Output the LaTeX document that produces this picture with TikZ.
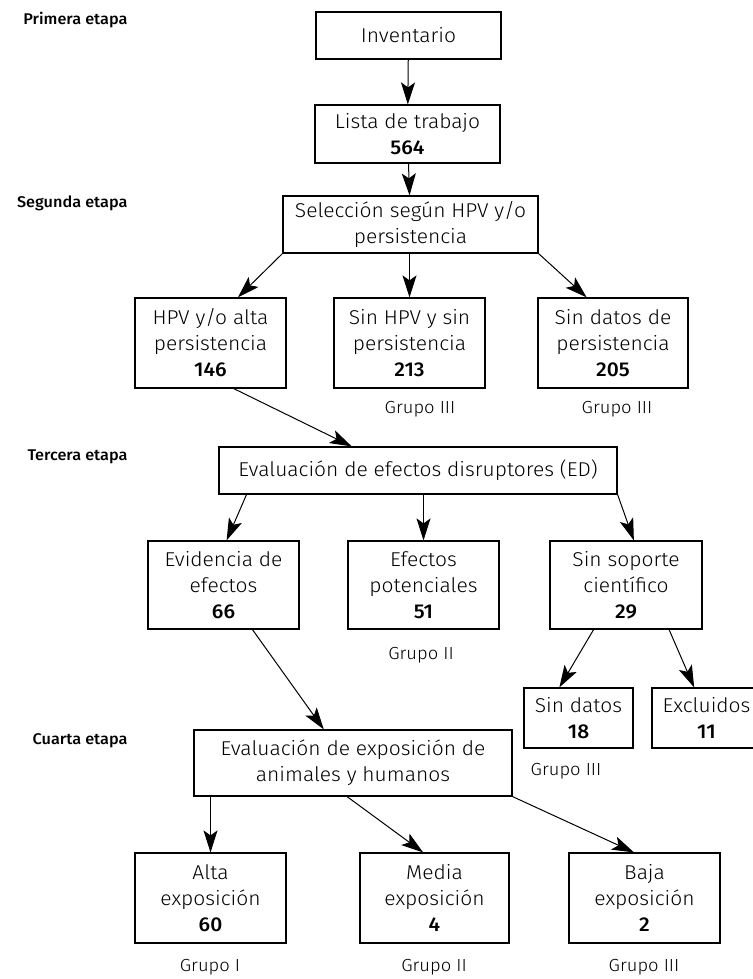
\documentclass[tikz,border=0pt]{standalone}
\usepackage{fontspec}
\setmainfont{Fira Sans}[UprightFont=* Light, BoldFont=* Medium, FakeStretch=1.05]
\usetikzlibrary{arrows.meta}

\begin{document}
\begin{tikzpicture}[x=1pt,y=-1pt,
    caja/.style={draw,line width=1.2pt,align=center,inner sep=0pt,font=\fontsize{20}{26}\selectfont},
    etapa/.style={anchor=east,font=\fontsize{15.5}{19}\bfseries},
    grupo/.style={font=\fontsize{17.5}{20}\selectfont},
    flecha/.style={-{Stealth[length=22pt,width=14pt,inset=5pt]},line width=1pt}]

    \useasboundingbox (0,0) rectangle (752,979);

    %etapas
    \node[etapa] (e1) at (131,20) {Primera etapa};
    \node[etapa] (e2) at (131,203) {Segunda etapa};
    \node[etapa] (e3) at (131,457) {Tercera etapa};
    \node[etapa] (e4) at (131,741) {Cuarta etapa};

    %primera etapa
    \node[caja,minimum width=185,minimum height=47] (inv) at (408.5,35.5) {Inventario};
    \node[caja,minimum width=185,minimum height=58] (lista) at (407.5,134) {Lista de trabajo\\\textbf{564}};

    %segunda etapa
    \node[caja,minimum width=255,minimum height=57] (sel) at (410.5,224.5) {Selección según HPV y/o\\persistencia};
    \node[caja,minimum width=151,minimum height=90] (hpv) at (210.5,343) {HPV y/o alta\\persistencia\\\textbf{146}};
    \node[caja,minimum width=151,minimum height=90] (sinhpv) at (409.5,343) {Sin HPV y sin\\persistencia\\\textbf{213}};
    \node[caja,minimum width=150,minimum height=90] (sdp) at (613,343) {Sin datos de\\persistencia\\\textbf{205}};
    \node[grupo] (g1) at (420,409) {Grupo III};
    \node[grupo] (g2) at (617,409) {Grupo III};

    %tercera etapa
    \node[caja,minimum width=398,minimum height=47] (ed) at (418,470.5) {Evaluación de efectos disruptores (ED)};
    \node[caja,minimum width=151,minimum height=88] (evid) at (223.5,585) {Evidencia de\\efectos\\\textbf{66}};
    \node[caja,minimum width=151,minimum height=88] (efe) at (423.5,585) {Efectos\\potenciales\\\textbf{51}};
    \node[caja,minimum width=152,minimum height=88] (sop) at (626,585) {Sin soporte\\científico\\\textbf{29}};
    \node[grupo] (g3) at (421,655) {Grupo II};
    \node[caja,minimum width=109,minimum height=60] (sd) at (578.5,718) {Sin datos\\\textbf{18}};
    \node[caja,minimum width=109,minimum height=60] (excl) at (706.5,718) {Excluidos\\\textbf{11}};
    \node[grupo] (g4) at (566,771) {Grupo III};

    %cuarta etapa
    \node[caja,minimum width=318,minimum height=66] (exp) at (353,763) {Evaluación de exposición de\\animales y humanos};
    \node[caja,minimum width=151,minimum height=90] (alta) at (210.5,898) {Alta\\exposición\\\textbf{60}};
    \node[caja,minimum width=149,minimum height=90] (media) at (434.5,898) {Media\\exposición\\\textbf{4}};
    \node[caja,minimum width=151,minimum height=90] (baja) at (644.5,898) {Baja\\exposición\\\textbf{2}};
    \node[grupo] (g5) at (210,967) {Grupo I};
    \node[grupo] (g6) at (434,967) {Grupo II};
    \node[grupo] (g7) at (644,967) {Grupo III};

    %flechas
    \draw[flecha] (inv) -- (lista);
    \draw[flecha] (lista) -- (sel);
    \draw[flecha] (sel.south west) -- (hpv.59);
    \draw[flecha] (sinhpv.north |- sel.south) -- (sinhpv.north);
    \draw[flecha] (sel.south east) -- (sdp.120);
    \draw[flecha] (hpv.-63) -- (ed.160);
    \draw[flecha] (ed.-172) -- (evid.86);
    \draw[flecha] (efe.north |- ed.south) -- (efe.north);
    \draw[flecha] (ed.south east) -- (sop.80);
    \draw[flecha] (sop.-126) -- (sd.122);
    \draw[flecha] (sop.-46) -- (excl.112);
    \draw[flecha] (evid.-57) -- (exp.131);
    \draw[flecha] (alta.north |- exp.south) -- (alta.north);
    \draw[flecha] (exp.-100) -- (media.104);
    \draw[flecha] (exp.south east) -- (baja.103);
\end{tikzpicture}
\end{document}
